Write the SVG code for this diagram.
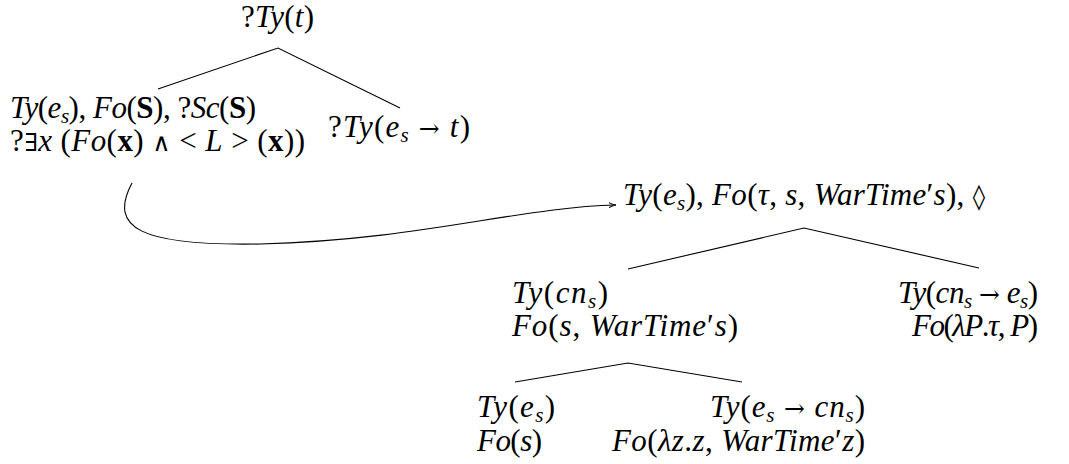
<svg xmlns="http://www.w3.org/2000/svg" width="1069" height="464" viewBox="0 0 1069 464">
<style>
.m{font-family:"Liberation Serif","Times New Roman",serif;font-size:31px;fill:#000}
.i{font-style:italic}
.b{font-weight:bold}
.s{font-size:21px;font-style:italic}
.o{font-family:"DejaVu Serif",serif;font-size:25px;font-weight:normal}
.e{stroke:#000;stroke-width:1.1;fill:none}
</style>
<defs>
<marker id="arr" markerWidth="8" markerHeight="6" refX="7" refY="3" orient="auto" markerUnits="userSpaceOnUse">
<path d="M0,0.5 Q3,2.5 7,3 Q3,3.5 0,5.5" fill="none" stroke="#000" stroke-width="1"/>
</marker>
</defs>
<rect width="1069" height="464" fill="#fff"/>
<g id="connectors">
<path class="e" d="M158,89 L278,48 L400,108"/>
<path class="e" d="M628,269 L804,228 L979,268"/>
<path class="e" d="M515,382 L628,363 L742,382"/>
<path class="e" d="M132,183 C108,228 140,246 260,244 C420,240 520,207 616,205" marker-end="url(#arr)"/>
</g>
<g id="root">
<text class="m" x="241" y="27" textLength="73">?<tspan class="i">Ty</tspan>(<tspan class="i">t</tspan>)</text>
</g>
<g id="left">
<text class="m" x="10" y="118" textLength="246"><tspan class="i">Ty</tspan>(<tspan class="i">e</tspan><tspan class="s" dy="5">s</tspan><tspan dy="-5">), </tspan><tspan class="i">Fo</tspan>(<tspan class="b">S</tspan>), ?<tspan class="i">Sc</tspan>(<tspan class="b">S</tspan>)</text>
<text class="m" x="10" y="151" textLength="295">?<tspan class="o">∃</tspan><tspan class="i">x</tspan> (<tspan class="i">Fo</tspan>(<tspan class="b">x</tspan>) <tspan class="o">∧</tspan> &lt; <tspan class="i">L</tspan> &gt; (<tspan class="b">x</tspan>))</text>
</g>
<g id="right">
<text class="m" x="328" y="137" textLength="142">?<tspan class="i">Ty</tspan>(<tspan class="i">e</tspan><tspan class="s" dy="5">s</tspan><tspan dy="-5"> </tspan><tspan class="o">→</tspan> <tspan class="i">t</tspan>)</text>
</g>
<g id="linked">
<text class="m" x="623" y="205" textLength="362"><tspan class="i">Ty</tspan>(<tspan class="i">e</tspan><tspan class="s" dy="5">s</tspan><tspan dy="-5">), </tspan><tspan class="i">Fo</tspan>(<tspan class="i">τ</tspan>, <tspan class="i">s</tspan>, <tspan class="i">WarTime</tspan>′<tspan class="i">s</tspan>), <tspan class="o">◊</tspan></text>
</g>
<g id="cn">
<text class="m" x="512" y="303" textLength="96"><tspan class="i">Ty</tspan>(<tspan class="i">cn</tspan><tspan class="s" dy="5">s</tspan><tspan dy="-5">)</tspan></text>
<text class="m" x="512" y="336" textLength="226"><tspan class="i">Fo</tspan>(<tspan class="i">s</tspan>, <tspan class="i">WarTime</tspan>′<tspan class="i">s</tspan>)</text>
</g>
<g id="det">
<text class="m" x="898" y="303" textLength="140"><tspan class="i">Ty</tspan>(<tspan class="i">cn</tspan><tspan class="s" dy="5">s</tspan><tspan dy="-5"> </tspan><tspan class="o">→</tspan> <tspan class="i">e</tspan><tspan class="s" dy="5">s</tspan><tspan dy="-5">)</tspan></text>
<text class="m" x="912" y="336" textLength="126"><tspan class="i">Fo</tspan>(<tspan class="i">λP</tspan>.<tspan class="i">τ</tspan>, <tspan class="i">P</tspan>)</text>
</g>
<g id="var">
<text class="m" x="477" y="417" textLength="78"><tspan class="i">Ty</tspan>(<tspan class="i">e</tspan><tspan class="s" dy="5">s</tspan><tspan dy="-5">)</tspan></text>
<text class="m" x="477" y="451" textLength="65"><tspan class="i">Fo</tspan>(<tspan class="i">s</tspan>)</text>
</g>
<g id="noun">
<text class="m" x="710" y="417" textLength="155"><tspan class="i">Ty</tspan>(<tspan class="i">e</tspan><tspan class="s" dy="5">s</tspan><tspan dy="-5"> </tspan><tspan class="o">→</tspan> <tspan class="i">cn</tspan><tspan class="s" dy="5">s</tspan><tspan dy="-5">)</tspan></text>
<text class="m" x="612" y="451" textLength="253"><tspan class="i">Fo</tspan>(<tspan class="i">λz</tspan>.<tspan class="i">z</tspan>, <tspan class="i">WarTime</tspan>′<tspan class="i">z</tspan>)</text>
</g>
</svg>
